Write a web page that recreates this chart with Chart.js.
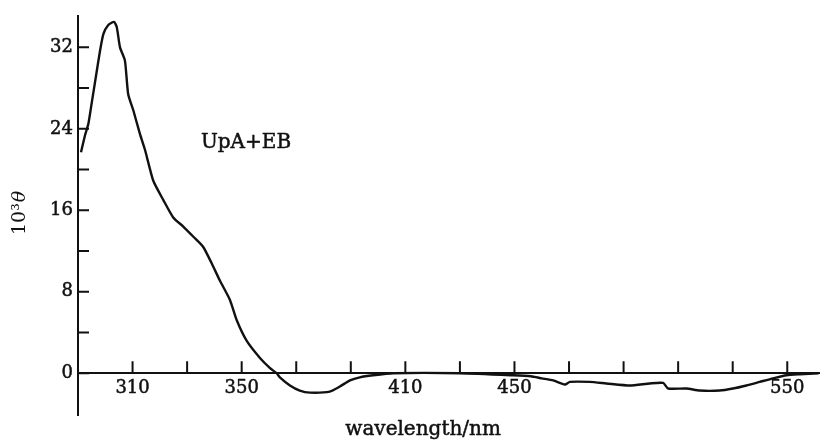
<!DOCTYPE html>
<html>
<head>
<meta charset="utf-8">
<script src="https://cdn.jsdelivr.net/npm/chart.js@4/dist/chart.umd.min.js"></script>
<style>
html,body{margin:0;padding:0;background:#fff;}
#wrap{width:820px;height:441px;position:relative;}
</style>
</head>
<body>
<div id="wrap"><canvas id="c" width="820" height="441"></canvas></div>
<script>
// wavelength (nm) and 10^3 theta values
const wavelength = [291.1,292.6,293.8,295.0,296.9,298.1,299.3,301.1,303.2,304.2,305.4,307.2,308.4,310.3,312.7,314.6,317.6,321.3,324.9,328.6,332.3,335.9,339.0,342.0,345.7,348.2,351.8,356.7,360.4,362.8,364.0,367.7,371.3,375.0,382.3,386.0,389.7,393.3,398.2,405.5,430.0,449.5,456.0,460.0,464.2,468.5,470.3,477.6,483.7,492.3,499.6,504.5,506.3,513.0,517.9,525.2,530.1,535.0,539.9,544.8,549.7,554.6,561.5];
const theta = [21.7,23.4,24.5,26.5,29.7,31.7,33.3,34.2,34.5,34.0,32.0,30.7,27.4,25.8,23.5,21.9,18.9,17.0,15.3,14.4,13.4,12.4,10.8,9.1,7.2,5.2,3.2,1.5,0.5,0.0,-0.4,-1.2,-1.7,-1.9,-1.8,-1.3,-0.7,-0.4,-0.2,0.0,0.0,-0.2,-0.3,-0.5,-0.7,-1.1,-0.85,-0.85,-1.0,-1.2,-1.0,-0.95,-1.5,-1.5,-1.7,-1.7,-1.5,-1.2,-0.85,-0.5,-0.2,-0.1,0.0];
const xTickLabels = [310,350,410,450,550];
const xTickMarks = [310,330,350,370,390,410,430,450,470,490,510,530,550];
const yTickLabels = [0,8,16,24,32];
const yTickMarks = [0,4,8,12,16,20,24,28,32];
const seriesLabel = "UpA+EB";
const xTitle = "wavelength/nm";

const FONT = "'DejaVu Serif', 'Liberation Serif', serif";
const INK = "#111";

const points = wavelength.map((w,i)=>({x:w,y:theta[i]}));

const decor = {
  id:'decor',
  afterDraw(chart){
    const ctx = chart.ctx, xs = chart.scales.x, ys = chart.scales.y;
    const ca = chart.chartArea;
    const y0 = ys.getPixelForValue(0);
    ctx.save();
    ctx.strokeStyle = INK; ctx.lineWidth = 2;
    ctx.beginPath();
    yTickMarks.forEach(v=>{ const p = ys.getPixelForValue(v); ctx.moveTo(ca.left, p); ctx.lineTo(ca.left+11, p); });
    xTickMarks.forEach(v=>{ const p = xs.getPixelForValue(v); ctx.moveTo(p, y0); ctx.lineTo(p, y0-12); });
    ctx.stroke();
    ctx.fillStyle = INK;
    ctx.strokeStyle = INK; ctx.lineWidth = 0.5;
    // series annotation
    ctx.font = "20px " + FONT;
    ctx.textAlign = 'center'; ctx.textBaseline = 'middle';
    ctx.fillText(seriesLabel, xs.getPixelForValue(351.6), ys.getPixelForValue(22.6));
    ctx.strokeText(seriesLabel, xs.getPixelForValue(351.6), ys.getPixelForValue(22.6));
    // x title
    ctx.font = "20px " + FONT;
    ctx.fillText(xTitle, xs.getPixelForValue(416.5), ca.bottom + 15);
    ctx.strokeText(xTitle, xs.getPixelForValue(416.5), ca.bottom + 15);
    // y title: 10³θ rotated
    ctx.translate(ca.left - 58, ys.getPixelForValue(15.7));
    ctx.rotate(-Math.PI/2);
    ctx.textBaseline = 'middle';
    const a = "10\u00B3";
    ctx.font = "19px " + FONT;
    const wa = ctx.measureText(a).width;
    ctx.font = "italic 19px " + FONT;
    const wb = ctx.measureText("\u03B8").width;
    const start = -(wa+wb)/2;
    ctx.textAlign = 'left';
    ctx.font = "19px " + FONT;
    ctx.fillText(a, start, 0);
    ctx.font = "italic 19px " + FONT;
    ctx.fillText("\u03B8", start+wa+1, 0);
    ctx.restore();
  }
};

new Chart(document.getElementById('c'), {
  type:'line',
  data:{ datasets:[{ data:points, borderColor:INK, borderWidth:2.4, pointRadius:0, tension:0.2, fill:false }] },
  options:{
    responsive:false, animation:false,
    layout:{ padding:{ top:15, left:0, right:0, bottom:26 } },
    plugins:{ legend:{display:false}, tooltip:{enabled:false}, title:{display:false} },
    scales:{
      x:{ type:'linear', min:290, max:562, position:{y:0},
        grid:{display:false, drawTicks:false},
        border:{display:true, color:INK, width:2},
        afterBuildTicks:s=>{ s.ticks = xTickLabels.map(v=>({value:v})); },
        ticks:{ color:INK, padding:4, maxRotation:0, autoSkip:false, textStrokeColor:INK, textStrokeWidth:0.5, font:{family:FONT, size:18} }
      },
      y:{ type:'linear', min:-4.1, max:35.1, position:'left',
        grid:{display:false, drawTicks:false},
        border:{display:true, color:INK, width:2},
        afterFit:s=>{ s.width = 78; },
        afterBuildTicks:s=>{ s.ticks = yTickLabels.map(v=>({value:v})); },
        ticks:{ color:INK, padding:5, autoSkip:false, textStrokeColor:INK, textStrokeWidth:0.5, font:{family:FONT, size:18} }
      }
    }
  },
  plugins:[decor]
});
</script>
</body>
</html>
